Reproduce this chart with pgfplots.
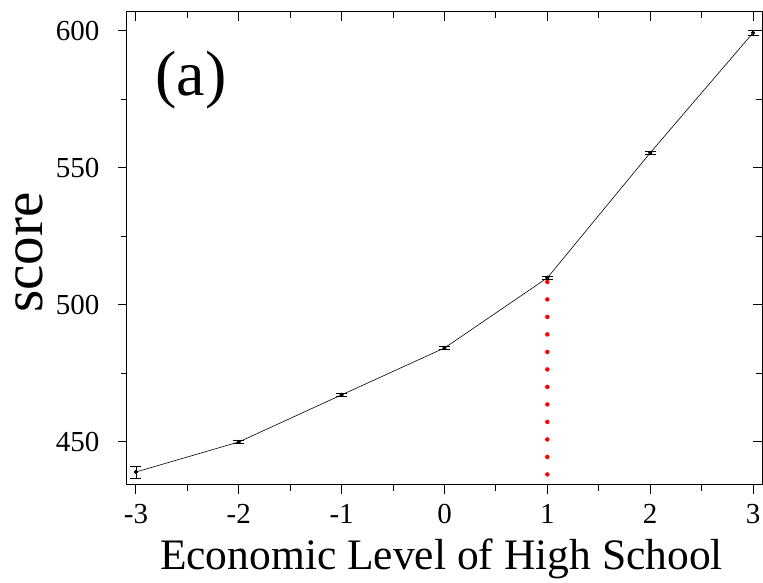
\documentclass[border=0pt]{standalone}
\usepackage{fontspec}
\setmainfont{Liberation Serif}
\usepackage{pgfplots}
\pgfplotsset{compat=1.18}
\begin{document}
\begin{tikzpicture}
\pgfplotsset{
  myframe/.style={
    scale only axis,
    width=635pt, height=473pt,
    xmin=-3.087, xmax=3.087,
    ymin=434.3, ymax=606.9,
    xtick={-3,-2,-1,0,1,2,3},
    ytick={450,500,550,600},
    minor x tick num=1,
    minor y tick num=1,
    every tick/.style={black, line width=1pt},
    major tick length=9pt,
    minor tick length=6pt,
  }
}
\begin{axis}[
  myframe,
  /pgf/number format/assume math mode=true,
  tick label style={font=\fontsize{29}{32}\selectfont},
  xticklabel style={inner sep=0pt, yshift=-10pt},
  yticklabel style={xshift=-15pt},
  axis line style={line width=1pt},
  tick align=outside,
  xtick pos=left, ytick pos=left,
  xlabel={Economic Level of High School},
  ylabel={score},
  xlabel style={font=\fontsize{43.5}{46}\selectfont, at={(axis description cs:0.4953,-0.1797)}, anchor=base, inner sep=0pt},
  ylabel style={font=\fontsize{57}{60}\selectfont, at={(axis description cs:-0.1323,0.4915)}, anchor=base, inner sep=0pt},
  extra description/.code={
    \node[font=\fontsize{64}{66}\selectfont, anchor=center, inner sep=0pt] at (rel axis cs:0.1008,0.856) {(a)};
  },
]
\addplot[red, line width=4.5pt, dash pattern=on 0pt off 17.5pt, line cap=round] coordinates {(1,508.4) (1,434.3)};
\addplot[black, line width=0.6pt, mark=*, mark size=1.8pt,
  error bars/.cd, y dir=both, y explicit,
  error mark options={rotate=90, mark size=5.5pt, black, line width=0.6pt},
  error bar style={line width=0.6pt}]
  coordinates {
  (-3,439.05) +- (0,2.2)
  (-2,450.0) +- (0,0.5)
  (-1,467.2) +- (0,0.5)
  (0,484.3) +- (0,0.6)
  (1,509.9) +- (0,0.6)
  (2,555.5) +- (0,0.6)
  (3,599.3) +- (0,0.8)
  };
\end{axis}
\begin{axis}[
  myframe,
  tick align=inside,
  xtick pos=right, ytick pos=right,
  xticklabels={}, yticklabels={},
  tick label style={overlay},
  axis line style={draw=none},
]
\end{axis}
\path ([xshift=-127pt,yshift=-98pt]current axis.south west) rectangle ([xshift=1pt,yshift=12pt]current axis.north east);
\end{tikzpicture}
\end{document}
